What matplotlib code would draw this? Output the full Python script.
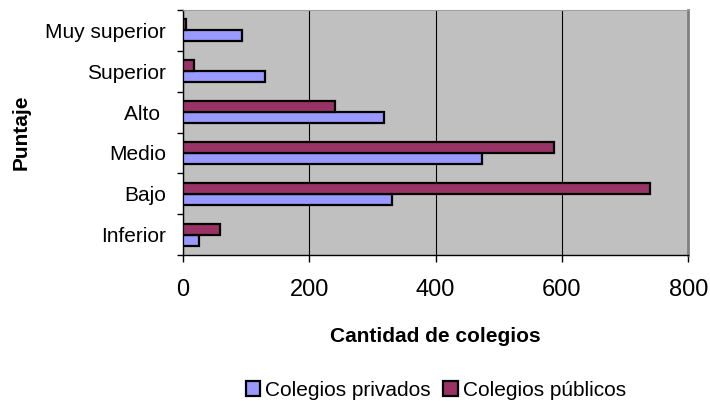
#!/usr/bin/env python3

import numpy as np
import matplotlib.pyplot as plt

plt.rcParams['font.family'] = ['Liberation Sans', 'DejaVu Sans']

categorias = ['Inferior', 'Bajo', 'Medio', 'Alto ', 'Superior', 'Muy superior']
privados = [26, 331, 473, 319, 130, 94]
publicos = [59, 740, 587, 241, 18, 6]

fig = plt.figure(figsize=(7.1, 4.01), dpi=100)
ax = fig.add_axes([182.7 / 710, 1 - 255 / 401, (688.3 - 182.7) / 710, 245 / 401])
ax.set_facecolor('#C0C0C0')

y = np.arange(len(categorias))
h = 0.27
ax.barh(y - h / 2, privados, height=h, color='#9999FF', edgecolor='black',
        linewidth=1.6, label='Colegios privados', zorder=3)
ax.barh(y + h / 2, publicos, height=h, color='#993366', edgecolor='black',
        linewidth=1.6, label='Colegios públicos', zorder=3)

ax.set_xlim(0, 800)
ax.set_ylim(-0.5, len(categorias) - 0.5)
ax.set_xticks([0, 200, 400, 600, 800])
ax.tick_params(axis='x', labelsize=17, length=5, width=1, pad=12, direction='out')

# y ticks at category borders, labels at centres
ax.set_yticks(np.arange(len(categorias) + 1) - 0.5)
ax.set_yticklabels([])
ax.set_yticks(y, minor=True)
ax.set_yticklabels(categorias, minor=True)
ax.tick_params(axis='y', which='major', length=4, width=1, direction='out')
ax.tick_params(axis='y', which='minor', length=0, labelsize=15, pad=12)

ax.grid(axis='x', color='black', linewidth=0.8, zorder=1)
ax.set_axisbelow(True)
ax.get_xgridlines()[-1].set_visible(False)

for s in ['left', 'bottom']:
    ax.spines[s].set_color('black')
    ax.spines[s].set_linewidth(1)
ax.spines['top'].set_color('#A0A0A0')
ax.spines['right'].set_color('#808080')
ax.spines['right'].set_linewidth(2)

ax.set_xlabel('Cantidad de colegios', fontsize=15, fontweight='bold')
ax.xaxis.set_label_coords(0.5, -0.295)
ax.set_ylabel('Puntaje', fontsize=15, fontweight='bold')
ax.yaxis.set_label_coords(-0.3, 0.5)

fig.legend(loc='center', bbox_to_anchor=(436 / 710, 1 - 390 / 401), ncol=2,
           frameon=False, fontsize=15, handlelength=0.7, handleheight=0.7,
           handletextpad=0.25, columnspacing=0.6, borderpad=0)

fig.savefig('out.png', dpi=100)
